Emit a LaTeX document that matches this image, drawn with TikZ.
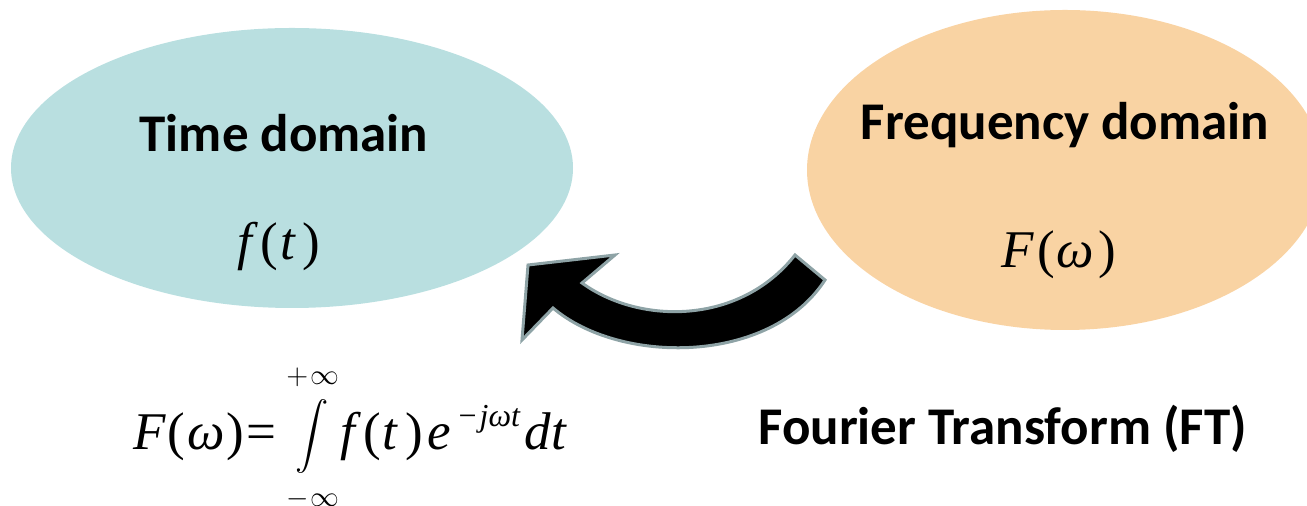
\documentclass[tikz,border=0pt]{standalone}
\usepackage{fontspec}
\setmainfont{Carlito}
\newfontfamily\tmf{Liberation Serif}
\newcommand\myit[1]{{\tmf\itshape #1}}
\newcommand\myrm[1]{{\tmf #1}}
\definecolor{timefill}{HTML}{B9DFE0}
\definecolor{freqfill}{HTML}{F9D3A3}
\definecolor{arrowedge}{HTML}{8EA3A6}
\usetikzlibrary{shapes.geometric}
\tikzset{
  domainbox/.style={ellipse, inner sep=0pt},
  titletext/.style={font=\fontsize{26.5}{30}\selectfont\bfseries, anchor=base, inner sep=0pt},
  mathtxt/.style={font=\fontsize{26.5}{30}\selectfont, anchor=base, inner sep=0pt},
  limtxt/.style={font=\fontsize{14}{14}\selectfont, inner sep=0pt},
  blockarrow/.style={fill=black, draw=arrowedge, line width=1.5pt, line join=miter},
}
\begin{document}
\begin{tikzpicture}[x=0.5pt,y=-0.5pt]
\useasboundingbox (0,0) rectangle (1307,506);
% domains
\node[domainbox, fill=timefill, minimum width=281pt, minimum height=140pt] (time) at (292,168) {};
\node[domainbox, fill=freqfill, minimum width=258pt, minimum height=160pt] (freq) at (1065,170) {};
\node[titletext] (timetitle) at (284,152) {Time domain};
\node[mathtxt] (ft) at (279,260) {\myit{f}\hspace{4pt}\myrm{(}\hspace{1pt}\myit{t}\hspace{4pt}\myrm{)}};
\node[titletext] (freqtitle) at (1065,140) {Frequency domain};
\node[mathtxt] (Fw) at (1059,268) {\myit{F}\hspace{1.5pt}\myrm{(}\hspace{1pt}\myit{ω}\hspace{2pt}\myrm{)}};
% curved block arrow (from frequency domain to time domain)
\coordinate (tailA) at (795,255);
\coordinate (tailB) at (825,280);
\coordinate (tip) at (528,265);
\draw[blockarrow] (tailA) -- (tailB) .. controls (770,365) and (620,365) .. (553,308)
  -- (522,340) -- (tip) -- (615,255) -- (582,283)
  .. controls (640,325) and (740,325) .. (tailA) -- cycle;
% formula
\node[mathtxt, anchor=base west] (lhs) at (133,450) {\myit{F}\hspace{1pt}\myrm{(}\hspace{1pt}\myit{ω}\hspace{1pt}\myrm{)}\hspace{1pt}\myrm{=}};
\node[inner sep=0pt] (intsign) at (312,437) {\resizebox*{!}{37pt}{$\displaystyle\int$}};
\node[limtxt] (upper) at (313,377) {$+\mkern1.5mu\infty$};
\node[limtxt] (lower) at (313,499) {$-\mkern1.5mu\infty$};
\node[mathtxt, anchor=base west] (rhs) at (340,450) {\myit{f}\hspace{4pt}\myrm{(}\hspace{1pt}\myit{t}\hspace{4pt}\myrm{)}\hspace{2pt}\myit{e}\hspace{4pt}\raisebox{11.5pt}{\fontsize{16}{16}\selectfont\myrm{−}\hspace{1.5pt}\myit{jωt}}\hspace{2pt}\myit{d}\hspace{0.5pt}\myit{t}};
\node[titletext, anchor=base west] (ftlabel) at (758,445) {Fourier Transform (FT)};
\end{tikzpicture}
\end{document}
